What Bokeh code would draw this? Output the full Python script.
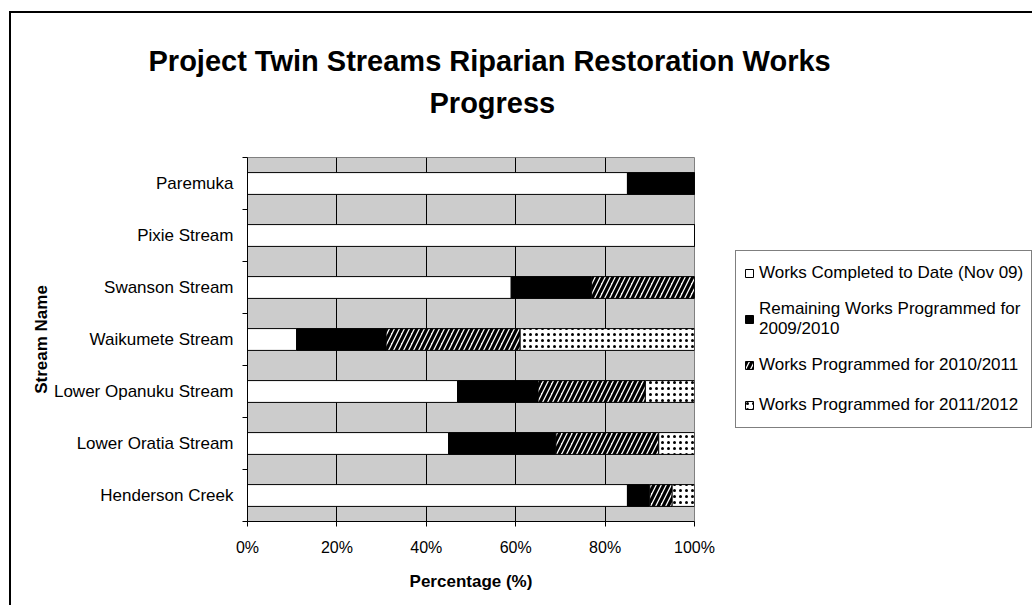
from bokeh.plotting import figure
from bokeh.models import ColumnDataSource, FixedTicker, Range1d, Legend, LegendItem, Title
from bokeh.embed import file_html
from bokeh.resources import INLINE

# ---- data (top to bottom as shown) ----
streams = ["Paremuka", "Pixie Stream", "Swanson Stream", "Waikumete Stream",
           "Lower Opanuku Stream", "Lower Oratia Stream", "Henderson Creek"]
completed = [85, 100, 59, 11, 47, 45, 85]
remaining_0910 = [15, 0, 18, 20, 18, 24, 5]
programmed_1011 = [0, 0, 23, 30, 24, 23, 5]
programmed_1112 = [0, 0, 0, 39, 11, 8, 5]
series_labels = ["Works Completed to Date (Nov 09)",
                 "Remaining Works Programmed for\n2009/2010",
                 "Works Programmed for 2010/2011",
                 "Works Programmed for 2011/2012"]
x_ticks = [0, 20, 40, 60, 80, 100]
x_tick_labels = ["0%", "20%", "40%", "60%", "80%", "100%"]

n = len(streams)
ypos = [n - 1 - i + 0.5 for i in range(n)]
src = ColumnDataSource(dict(y=ypos, completed=completed, remaining=remaining_0910,
                            p1011=programmed_1011, p1112=programmed_1112))

FONT = "Liberation Sans"

p = figure(frame_width=447, frame_height=364, output_backend="svg", toolbar_location=None,
           x_range=Range1d(0, 100), y_range=Range1d(0, n),
           min_border_left=236, min_border_right=337, min_border_top=144, min_border_bottom=84,
           background_fill_color="#CCCCCC", border_fill_color="white",
           outline_line_color="#808080", outline_line_width=1)
p.styles = {"border-left": "2px solid black", "border-top": "2px solid black",
            "margin-left": "9px", "margin-top": "11px"}

rs = p.hbar_stack(["completed", "remaining", "p1011", "p1112"], y="y", height=0.42, source=src,
                  fill_color=["white", "black", "white", "white"],
                  line_color="black", line_width=1,
                  hatch_pattern=[" ", " ", "right_diagonal_line", "dot"],
                  hatch_color="black",
                  hatch_scale=[12, 12, 10, 6],
                  hatch_weight=[1, 1, 3.2, 1.3])

# title (two lines) with a blank spacer between the title and the plot area
spacer = Title(text=" ", text_font=FONT, text_font_size="10px", standoff=21)
t2 = Title(text="Progress", text_font=FONT, text_font_size="29px", text_font_style="bold",
           text_color="black", align="left", offset=182, standoff=10)
t1 = Title(text="Project Twin Streams Riparian Restoration Works", text_font=FONT,
           text_font_size="29px", text_font_style="bold", text_color="black",
           align="left", offset=-99, standoff=6)
p.add_layout(spacer, "above")
p.add_layout(t2, "above")
p.add_layout(t1, "above")

# x axis
xa = p.xaxis[0]
xa.ticker = FixedTicker(ticks=x_ticks)
xa.major_label_overrides = {t: l for t, l in zip(x_ticks, x_tick_labels)}
xa.major_tick_out = 5
xa.major_tick_in = 0
xa.minor_tick_out = 0
xa.axis_line_color = "black"
xa.major_tick_line_color = "black"
xa.major_label_text_font = FONT
xa.major_label_text_font_size = "16px"
xa.major_label_text_color = "black"
xa.major_label_standoff = 12
xa.axis_label = "Percentage (%)"
xa.axis_label_text_font = FONT
xa.axis_label_text_font_size = "17px"
xa.axis_label_text_font_style = "bold"
xa.axis_label_text_color = "black"
xa.axis_label_standoff = 13

# y axis
ya = p.yaxis[0]
ya.ticker = FixedTicker(ticks=ypos, minor_ticks=list(range(n + 1)))
ya.major_label_overrides = {y: s for y, s in zip(ypos, streams)}
ya.major_tick_out = 0
ya.major_tick_in = 0
ya.minor_tick_out = 5
ya.minor_tick_in = 0
ya.axis_line_color = "black"
ya.minor_tick_line_color = "black"
ya.major_label_text_font = FONT
ya.major_label_text_font_size = "17px"
ya.major_label_text_color = "black"
ya.major_label_standoff = 9
ya.axis_label = "Stream Name"
ya.axis_label_text_font = FONT
ya.axis_label_text_font_size = "17px"
ya.axis_label_text_font_style = "bold"
ya.axis_label_text_color = "black"
ya.axis_label_standoff = 0

p.xgrid.ticker = FixedTicker(ticks=[20, 40, 60, 80])
p.xgrid.grid_line_color = "black"
p.xgrid.grid_line_width = 1
p.ygrid.grid_line_color = None

legend = Legend(items=[LegendItem(label=l, renderers=[r]) for l, r in zip(series_labels, rs)],
                location="center_left", orientation="vertical",
                label_text_font=FONT, label_text_font_size="17px", label_text_color="black",
                label_text_line_height=1.1, label_height=28,
                glyph_width=10, glyph_height=10, label_standoff=5, spacing=12, padding=8,
                border_line_color="black", border_line_width=1, background_fill_color="white",
                background_fill_alpha=1.0, margin=41)
p.add_layout(legend, "right")

open("out.html", "w").write(file_html(p, INLINE))
